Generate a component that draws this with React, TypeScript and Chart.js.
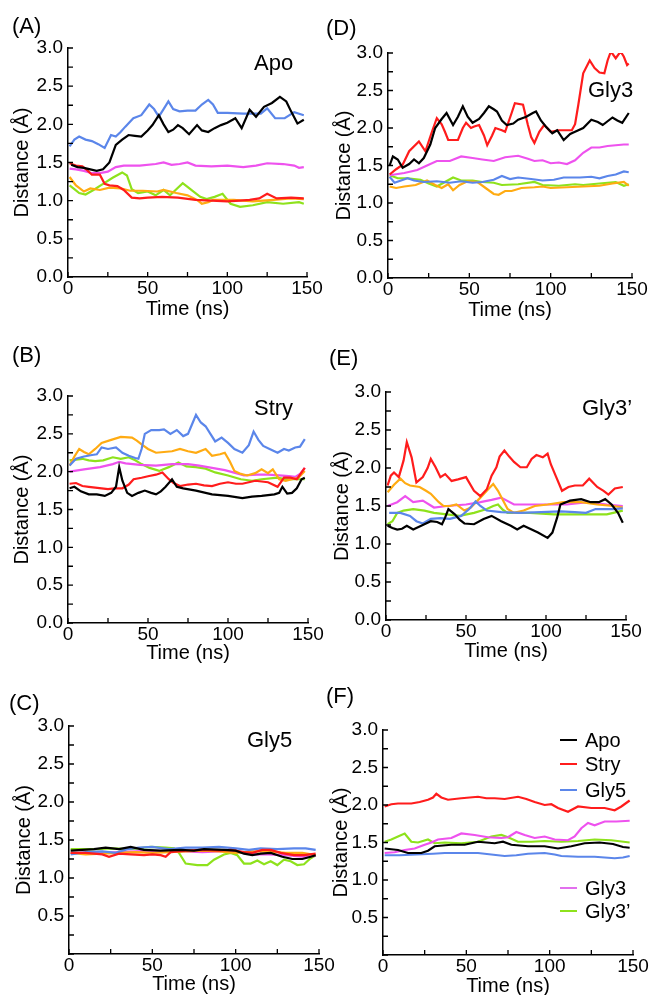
import React, { useEffect, useRef } from 'react';
import { Chart, registerables } from 'chart.js';
Chart.register(...registerables);

type P = [number, number][];

// ---------- Panel A (Apo) ----------
const A_APO: P = [[2,1.47],[6,1.44],[10,1.43],[14,1.41],[18,1.39],[22,1.41],[26,1.5],[30,1.73],[34,1.8],[38,1.86],[42,1.85],[46,1.84],[50,1.92],[53,1.99],[57,2.12],[60,2.0],[63,1.9],[66,1.93],[69,1.99],[72,1.95],[76,1.87],[81,1.99],[84,1.92],[88,1.9],[92,1.95],[96,1.99],[100,2.02],[105,2.08],[109,1.95],[114,2.19],[118,2.1],[123,2.23],[128,2.28],[133,2.36],[137,2.3],[140,2.17],[144,2.01],[148,2.06]];
const A_STRY: P = [[1,1.49],[5,1.46],[9,1.45],[12,1.4],[15,1.34],[20,1.34],[23,1.22],[26,1.2],[31,1.19],[35,1.14],[40,1.04],[45,1.03],[50,1.04],[59,1.05],[69,1.04],[80,1.01],[90,1.0],[100,0.99],[108,1.0],[114,1.01],[120,1.03],[125,1.09],[131,1.03],[140,1.04],[148,1.03]];
const A_GLY5: P = [[1,1.71],[4,1.8],[7,1.84],[11,1.8],[15,1.78],[19,1.74],[23,1.69],[27,1.86],[30,1.84],[33,1.9],[36,1.97],[41,2.08],[46,2.12],[51,2.26],[54,2.2],[57,2.1],[60,2.2],[63,2.3],[66,2.2],[70,2.17],[75,2.18],[80,2.18],[84,2.26],[88,2.32],[91,2.26],[94,2.15],[100,2.15],[110,2.14],[121,2.14],[125,2.21],[130,2.08],[136,2.08],[142,2.16],[148,2.12]];
const A_ORANGE: P = [[1,1.31],[5,1.2],[10,1.12],[14,1.16],[20,1.14],[26,1.17],[33,1.16],[39,1.13],[47,1.13],[56,1.12],[60,1.14],[68,1.1],[75,1.07],[81,1.01],[84,0.96],[88,0.98],[91,1.01],[104,1.01],[116,0.99],[129,1.01],[140,1.03],[148,1.02]];
const A_GLY3: P = [[1,1.42],[5,1.41],[10,1.39],[15,1.36],[20,1.36],[25,1.38],[30,1.44],[35,1.46],[45,1.46],[55,1.48],[60,1.5],[65,1.47],[70,1.48],[75,1.5],[80,1.46],[90,1.45],[100,1.46],[110,1.44],[118,1.46],[125,1.49],[135,1.48],[142,1.46],[145,1.43],[148,1.44]];
const A_GLY3P: P = [[1,1.2],[4,1.15],[7,1.1],[11,1.08],[16,1.14],[22,1.22],[28,1.3],[34,1.37],[37,1.33],[40,1.15],[44,1.1],[50,1.12],[55,1.07],[60,1.14],[64,1.07],[68,1.15],[72,1.23],[75,1.18],[80,1.1],[83,1.05],[87,1.02],[92,1.05],[97,1.09],[102,0.96],[108,0.92],[116,0.94],[125,0.98],[135,0.96],[145,0.98],[148,0.96]];

// ---------- Panel B (Stry) ----------
const B_APO: P = [[1,1.78],[4,1.8],[8,1.74],[13,1.7],[18,1.7],[23,1.68],[27,1.72],[30,1.8],[32,2.06],[34,1.88],[37,1.72],[40,1.68],[44,1.72],[48,1.75],[52,1.72],[55,1.7],[58,1.74],[61,1.8],[65,1.9],[68,1.8],[72,1.78],[80,1.75],[90,1.7],[100,1.68],[109,1.65],[115,1.67],[121,1.68],[129,1.7],[132,1.72],[134,1.8],[137,1.71],[140,1.72],[143,1.78],[146,1.9],[148,1.92]];
const B_STRY: P = [[1,1.84],[5,1.85],[9,1.81],[13,1.8],[17,1.79],[21,1.78],[25,1.77],[29,1.78],[34,1.78],[38,1.83],[41,1.9],[46,1.92],[50,1.94],[55,1.96],[59,1.99],[63,1.9],[66,1.85],[70,1.81],[75,1.83],[80,1.84],[85,1.82],[90,1.81],[95,1.84],[100,1.86],[105,1.84],[109,1.84],[113,1.86],[117,1.88],[121,1.87],[125,1.86],[131,1.8],[135,1.92],[139,1.92],[143,1.9],[148,2.05]];
const B_GLY5: P = [[1,2.08],[5,2.17],[10,2.2],[15,2.22],[18,2.23],[21,2.32],[25,2.3],[30,2.32],[34,2.25],[38,2.21],[42,2.18],[44,2.17],[46,2.3],[48,2.5],[52,2.55],[57,2.55],[60,2.56],[64,2.5],[68,2.55],[72,2.47],[75,2.5],[78,2.65],[80,2.75],[83,2.65],[86,2.6],[89,2.5],[92,2.4],[96,2.45],[100,2.38],[104,2.3],[109,2.25],[113,2.35],[116,2.53],[119,2.42],[122,2.34],[126,2.3],[131,2.25],[135,2.3],[138,2.28],[142,2.32],[145,2.33],[148,2.43]];
const B_ORANGE: P = [[1,2.08],[4,2.2],[7,2.3],[10,2.26],[13,2.23],[17,2.3],[21,2.38],[27,2.42],[33,2.46],[40,2.45],[43,2.41],[46,2.36],[50,2.3],[55,2.25],[60,2.26],[65,2.27],[70,2.3],[75,2.27],[80,2.25],[86,2.3],[90,2.21],[95,2.23],[98,2.25],[101,2.14],[104,2.01],[108,1.97],[112,1.95],[117,1.98],[121,2.03],[125,1.98],[128,2.03],[132,1.9],[136,1.88],[140,1.9],[144,1.92],[148,2.01]];
const B_GLY3: P = [[1,2.0],[10,2.03],[20,2.06],[28,2.1],[32,2.13],[36,2.11],[45,2.09],[55,2.08],[65,2.1],[75,2.1],[82,2.08],[90,2.05],[98,2.02],[105,1.98],[110,1.95],[118,1.96],[125,1.96],[132,1.95],[138,1.94],[142,1.93],[145,1.97],[148,2.05]];
const B_GLY3P: P = [[1,2.15],[5,2.16],[9,2.17],[13,2.15],[17,2.14],[22,2.15],[28,2.19],[33,2.17],[38,2.19],[42,2.15],[46,2.1],[51,2.05],[57,2.01],[63,2.06],[69,2.12],[74,2.07],[80,2.06],[86,2.04],[92,1.99],[100,1.95],[108,1.9],[115,1.88],[121,1.9],[131,1.92],[136,1.9],[142,1.9],[148,1.9]];

// ---------- Panel C (Gly5) ----------
const C_APO: P = [[1,1.36],[8,1.37],[15,1.38],[22,1.4],[30,1.38],[37,1.41],[45,1.37],[55,1.36],[67,1.37],[75,1.36],[81,1.38],[93,1.37],[100,1.36],[105,1.32],[110,1.3],[115,1.32],[121,1.33],[128,1.28],[134,1.25],[140,1.25],[145,1.28],[148,1.3]];
const C_STRY: P = [[1,1.33],[10,1.33],[20,1.31],[24,1.28],[30,1.32],[37,1.31],[45,1.3],[50,1.31],[55,1.3],[58,1.28],[61,1.34],[70,1.36],[80,1.37],[90,1.36],[97,1.37],[105,1.34],[110,1.33],[116,1.37],[121,1.37],[127,1.33],[135,1.3],[141,1.3],[148,1.32]];
const C_GLY5: P = [[1,1.31],[10,1.34],[20,1.35],[28,1.33],[35,1.38],[42,1.4],[50,1.41],[60,1.38],[70,1.4],[80,1.4],[90,1.41],[100,1.39],[108,1.37],[115,1.39],[125,1.38],[135,1.39],[142,1.39],[148,1.37]];
const C_ORANGE: P = [[1,1.33],[10,1.31],[20,1.32],[30,1.33],[40,1.34],[50,1.33],[60,1.34],[70,1.35],[80,1.36],[90,1.35],[100,1.33],[110,1.35],[120,1.35],[130,1.33],[140,1.33],[148,1.3]];
const C_GLY3: P = [[1,1.33],[10,1.33],[20,1.33],[30,1.34],[40,1.35],[50,1.36],[60,1.35],[70,1.35],[80,1.34],[90,1.35],[100,1.36],[105,1.33],[110,1.31],[120,1.31],[130,1.3],[140,1.28],[148,1.29]];
const C_GLY3P: P = [[1,1.38],[8,1.38],[17,1.38],[25,1.39],[37,1.38],[49,1.41],[58,1.4],[63,1.39],[66,1.33],[70,1.19],[77,1.17],[83,1.17],[87,1.24],[93,1.31],[97,1.33],[101,1.3],[105,1.19],[109,1.19],[113,1.23],[117,1.18],[121,1.22],[125,1.17],[129,1.24],[133,1.22],[137,1.17],[141,1.18],[145,1.26],[148,1.3]];

// ---------- Panel D (Gly3) ----------
const D_APO: P = [[1,1.5],[3,1.62],[6,1.58],[9,1.47],[13,1.52],[16,1.58],[19,1.53],[22,1.6],[26,1.78],[29,2.0],[33,2.12],[36,2.2],[40,2.04],[43,2.15],[46,2.29],[49,2.15],[52,2.07],[56,2.12],[59,2.2],[62,2.29],[65,2.25],[67,2.22],[70,2.1],[73,2.04],[77,2.06],[80,2.11],[85,2.15],[89,2.2],[91,2.22],[94,2.1],[97,2.02],[101,1.93],[104,1.97],[108,1.84],[112,1.92],[115,1.95],[120,2.0],[125,2.11],[129,2.08],[132,2.04],[138,2.14],[141,2.1],[144,2.07],[148,2.2]];
const D_STRY: P = [[1,1.38],[5,1.45],[9,1.51],[13,1.69],[19,1.82],[23,1.69],[27,1.95],[30,2.13],[33,2.05],[35,1.95],[37,1.84],[43,1.84],[46,2.0],[48,2.07],[51,2.0],[53,2.02],[56,2.04],[59,1.9],[61,1.77],[64,1.9],[66,2.0],[70,1.97],[72,1.95],[76,2.2],[78,2.33],[83,2.31],[86,2.04],[88,1.88],[90,1.8],[93,1.95],[96,2.04],[100,1.95],[105,1.97],[109,1.97],[113,1.97],[115,2.05],[117,2.31],[120,2.73],[124,2.9],[127,2.8],[130,2.74],[133,2.73],[135,2.9],[137,3.02],[140,2.93],[143,3.02],[145,2.95],[147,2.84],[148,2.86]];
const D_GLY5: P = [[1,1.35],[4,1.27],[8,1.3],[12,1.33],[16,1.3],[22,1.28],[30,1.29],[38,1.27],[45,1.29],[52,1.27],[58,1.28],[65,1.31],[70,1.36],[75,1.32],[80,1.34],[88,1.32],[95,1.3],[102,1.31],[108,1.34],[118,1.34],[125,1.35],[130,1.33],[135,1.36],[140,1.38],[145,1.42],[148,1.41]];
const D_ORANGE: P = [[1,1.22],[5,1.2],[10,1.22],[17,1.24],[24,1.3],[29,1.24],[33,1.2],[37,1.25],[40,1.17],[44,1.24],[49,1.29],[55,1.28],[60,1.2],[65,1.12],[68,1.11],[72,1.16],[76,1.16],[82,1.2],[90,1.21],[95,1.22],[100,1.2],[110,1.21],[120,1.22],[130,1.23],[138,1.26],[145,1.28],[148,1.23]];
const D_GLY3: P = [[1,1.37],[10,1.4],[18,1.44],[24,1.5],[30,1.56],[38,1.56],[45,1.62],[52,1.6],[58,1.58],[65,1.56],[72,1.61],[80,1.63],[86,1.59],[90,1.56],[95,1.57],[100,1.53],[105,1.54],[110,1.52],[115,1.57],[120,1.67],[125,1.74],[130,1.74],[135,1.76],[140,1.77],[145,1.78],[148,1.78]];
const D_GLY3P: P = [[1,1.37],[6,1.33],[12,1.33],[20,1.31],[25,1.26],[30,1.22],[35,1.28],[40,1.34],[45,1.3],[52,1.3],[58,1.28],[65,1.27],[70,1.24],[80,1.25],[90,1.28],[95,1.24],[105,1.23],[115,1.25],[120,1.24],[130,1.26],[140,1.28],[145,1.23],[148,1.25]];

// ---------- Panel E (Gly3') ----------
const E_APO: P = [[1,1.24],[4,1.21],[7,1.19],[10,1.2],[13,1.24],[17,1.19],[20,1.22],[24,1.26],[28,1.3],[32,1.29],[35,1.26],[37,1.35],[39,1.46],[43,1.39],[46,1.32],[49,1.27],[55,1.26],[61,1.33],[66,1.37],[72,1.3],[78,1.24],[82,1.19],[86,1.24],[90,1.2],[95,1.15],[101,1.08],[104,1.15],[107,1.35],[109,1.52],[115,1.57],[122,1.59],[128,1.55],[133,1.55],[137,1.59],[141,1.52],[145,1.41],[148,1.28]];
const E_STRY: P = [[1,1.77],[3,1.9],[5,1.94],[8,1.88],[11,2.1],[13,2.34],[16,2.14],[19,1.81],[23,1.88],[26,2.0],[28,2.12],[31,2.01],[34,1.88],[37,1.92],[41,1.83],[45,1.85],[50,1.88],[55,1.7],[59,1.63],[63,1.72],[66,1.9],[69,2.01],[71,2.15],[74,2.23],[77,2.15],[80,2.08],[84,2.01],[88,2.01],[91,2.12],[94,2.17],[98,2.14],[101,2.19],[103,2.05],[106,1.9],[110,1.7],[114,1.75],[118,1.77],[123,1.77],[127,1.86],[132,1.75],[136,1.7],[139,1.65],[143,1.73],[148,1.75]];
const E_GLY5: P = [[2,1.41],[9,1.41],[15,1.37],[19,1.3],[23,1.27],[28,1.33],[34,1.34],[40,1.33],[47,1.37],[52,1.46],[56,1.56],[59,1.5],[63,1.44],[72,1.42],[84,1.41],[97,1.42],[109,1.43],[118,1.42],[125,1.41],[131,1.46],[142,1.46],[148,1.47]];
const E_ORANGE: P = [[1,1.68],[5,1.78],[9,1.86],[12,1.8],[15,1.77],[21,1.75],[25,1.7],[28,1.66],[33,1.55],[36,1.5],[40,1.5],[44,1.52],[49,1.44],[53,1.48],[59,1.61],[63,1.7],[67,1.79],[70,1.7],[73,1.58],[76,1.46],[80,1.41],[86,1.44],[93,1.5],[101,1.52],[111,1.55],[122,1.55],[132,1.52],[142,1.5],[148,1.48]];
const E_GLY3: P = [[1,1.5],[7,1.55],[12,1.63],[17,1.55],[23,1.57],[30,1.48],[38,1.5],[50,1.52],[59,1.55],[66,1.58],[72,1.61],[80,1.52],[90,1.52],[100,1.52],[113,1.52],[126,1.55],[138,1.52],[148,1.5]];
const E_GLY3P: P = [[1,1.26],[4,1.3],[7,1.41],[11,1.44],[17,1.46],[24,1.44],[30,1.41],[38,1.39],[46,1.37],[55,1.41],[63,1.46],[67,1.5],[70,1.52],[73,1.45],[76,1.41],[90,1.41],[105,1.39],[122,1.39],[138,1.39],[144,1.42],[148,1.44]];

// ---------- Panel F (averages) ----------
const F_APO: P = [[1,1.42],[5,1.41],[9,1.4],[15,1.36],[23,1.36],[27,1.39],[31,1.45],[41,1.47],[49,1.47],[57,1.51],[62,1.5],[67,1.49],[72,1.51],[77,1.47],[87,1.45],[97,1.45],[105,1.42],[113,1.45],[121,1.49],[130,1.5],[138,1.48],[144,1.44],[148,1.43]];
const F_STRY: P = [[1,1.98],[5,2.01],[9,2.02],[17,2.02],[22,2.04],[27,2.07],[30,2.1],[32,2.15],[35,2.1],[39,2.07],[47,2.09],[57,2.11],[62,2.09],[67,2.09],[73,2.08],[81,2.11],[86,2.08],[91,2.04],[97,2.0],[101,2.01],[105,1.96],[111,1.91],[117,1.98],[125,1.96],[133,1.96],[139,1.93],[143,1.98],[148,2.06]];
const F_GLY5: P = [[1,1.33],[10,1.33],[20,1.34],[30,1.35],[37,1.36],[50,1.36],[57,1.36],[65,1.34],[73,1.32],[80,1.33],[87,1.35],[97,1.36],[103,1.34],[107,1.32],[117,1.31],[127,1.31],[133,1.3],[139,1.29],[144,1.3],[148,1.32]];
const F_GLY3: P = [[1,1.36],[7,1.37],[13,1.4],[19,1.42],[25,1.47],[29,1.5],[33,1.54],[41,1.56],[47,1.62],[55,1.6],[63,1.57],[71,1.56],[75,1.57],[80,1.64],[85,1.6],[91,1.56],[97,1.58],[103,1.54],[111,1.53],[115,1.58],[119,1.69],[123,1.76],[127,1.73],[133,1.78],[140,1.78],[148,1.79]];
const F_GLY3P: P = [[1,1.51],[5,1.54],[9,1.58],[13,1.62],[17,1.51],[21,1.5],[27,1.54],[31,1.49],[37,1.5],[47,1.49],[57,1.51],[65,1.58],[71,1.6],[75,1.57],[81,1.51],[89,1.51],[97,1.52],[107,1.51],[117,1.52],[127,1.54],[137,1.53],[148,1.5]];

// ---------- labels & ticks ----------
const SERIES_NAMES = ['Apo', 'Stry', 'Gly5', 'Gly5′', 'Gly3', "Gly3’"];
const SERIES_COLORS = ['#000000', '#ff1c1c', '#5b86ea', '#ffab12', '#ee52ee', '#8ee21c'];
const X_TICKS = [0, 50, 100, 150];
const Y_TICKS = [0, 0.5, 1.0, 1.5, 2.0, 2.5, 3.0];
const LEGEND_NAMES = ['Apo', 'Stry', 'Gly5', 'Gly3', "Gly3’"];
const LEGEND_COLORS = ['#000000', '#ff1c1c', '#5b86ea', '#e270ee', '#8ee21c'];

const FONT = "'Liberation Sans', Arial, Helvetica, sans-serif";

interface PanelCfg {
  tag: string; name: string;
  series: (P | null)[];
  box: { L: number; R: number; T: number; B: number };
  yTitleX: number; xTitleY: number; showZero: boolean;
  tagPos: [number, number]; namePos: [number, number];
}

const PANELS: PanelCfg[] = [
  { tag: '(A)', name: 'Apo', series: [A_APO, A_STRY, A_GLY5, A_ORANGE, A_GLY3, A_GLY3P],
    box: { L: 68, R: 307, T: 48, B: 277 }, yTitleX: 22, xTitleY: 309, showZero: true, tagPos: [12, 15], namePos: [254, 52] },
  { tag: '(D)', name: 'Gly3', series: [D_APO, D_STRY, D_GLY5, D_ORANGE, D_GLY3, D_GLY3P],
    box: { L: 388, R: 632, T: 53, B: 278 }, yTitleX: 344, xTitleY: 310, showZero: true, tagPos: [326, 17], namePos: [588, 79] },
  { tag: '(B)', name: 'Stry', series: [B_APO, B_STRY, B_GLY5, B_ORANGE, B_GLY3, B_GLY3P],
    box: { L: 68, R: 308, T: 396, B: 623 }, yTitleX: 22, xTitleY: 653, showZero: true, tagPos: [12, 344], namePos: [254, 397] },
  { tag: '(E)', name: "Gly3’", series: [E_APO, E_STRY, E_GLY5, E_ORANGE, E_GLY3, E_GLY3P],
    box: { L: 386, R: 626, T: 392, B: 620 }, yTitleX: 342, xTitleY: 651, showZero: true, tagPos: [329, 347], namePos: [582, 397] },
  { tag: '(C)', name: 'Gly5', series: [C_APO, C_STRY, C_GLY5, C_ORANGE, C_GLY3, C_GLY3P],
    box: { L: 69, R: 319, T: 726, B: 954 }, yTitleX: 24, xTitleY: 984, showZero: false, tagPos: [9, 692], namePos: [247, 729] },
  { tag: '(F)', name: '', series: [F_APO, F_STRY, F_GLY5, null, F_GLY3, F_GLY3P],
    box: { L: 383, R: 633, T: 730, B: 955 }, yTitleX: 341, xTitleY: 986, showZero: false, tagPos: [326, 685], namePos: [0, 0] },
];

const LEGEND_ROWS = [740, 764, 790, 888, 911];

const inwardTicks = {
  id: 'inwardTicks',
  afterDraw(chart: any) {
    const { ctx, chartArea, scales } = chart;
    const xs = scales.x, ys = scales.y;
    ctx.save();
    ctx.strokeStyle = '#000';
    ctx.lineWidth = 1.3;
    ctx.beginPath();
    for (let v = 0; v <= 150; v += 25) {
      const x = xs.getPixelForValue(v);
      ctx.moveTo(x, chartArea.bottom);
      ctx.lineTo(x, chartArea.bottom - 5);
    }
    for (let v = 0; v <= 3.0001; v += 0.25) {
      const y = ys.getPixelForValue(v);
      ctx.moveTo(chartArea.left, y);
      ctx.lineTo(chartArea.left + 5, y);
    }
    ctx.stroke();
    ctx.restore();
  },
};

function Panel({ cfg }: { cfg: PanelCfg }) {
  const ref = useRef<HTMLCanvasElement>(null);
  const { L, R, T, B } = cfg.box;
  const left = Math.round(cfg.yTitleX - 12);
  const top = T - 14;
  const right = R + 20;
  const bottom = cfg.xTitleY + 12;
  const width = right - left;
  const height = bottom - top;
  const yW = L - left - 2;
  const xH = bottom - 2 - B;

  useEffect(() => {
    if (!ref.current) return;
    const datasets: any[] = [];
    cfg.series.forEach((s, i) => {
      if (!s) return;
      datasets.push({
        label: SERIES_NAMES[i],
        data: s.map(([x, y]) => ({ x, y })),
        borderColor: SERIES_COLORS[i],
        backgroundColor: SERIES_COLORS[i],
        borderWidth: 2.2,
        pointRadius: 0,
        fill: false,
        tension: 0,
      });
    });
    const chart = new Chart(ref.current, {
      type: 'line',
      data: { datasets },
      plugins: [inwardTicks],
      options: {
        animation: false,
        responsive: false,
        maintainAspectRatio: false,
        layout: { padding: { left: 2, top: T - top, right: right - R, bottom: 2 } },
        plugins: { legend: { display: false }, tooltip: { enabled: false } },
        scales: {
          x: {
            type: 'linear', min: 0, max: 150, position: 'bottom',
            afterBuildTicks: (s: any) => { s.ticks = X_TICKS.map((v) => ({ value: v })); },
            ticks: { padding: 0, color: '#000', font: { family: FONT, size: 19 }, maxRotation: 0, autoSkip: false, callback: (v: any) => String(v) },
            grid: { display: false, drawTicks: false },
            border: { display: true, color: '#000', width: 1.5 },
            title: { display: true, text: 'Time (ns)', color: '#000', font: { family: FONT, size: 20, lineHeight: 1 }, padding: 0 },
            afterFit: (s: any) => { s.height = xH; s.paddingLeft = 0; s.paddingRight = 0; },
          },
          y: {
            type: 'linear', min: 0, max: 3,
            afterBuildTicks: (s: any) => { s.ticks = Y_TICKS.map((v) => ({ value: v })); },
            ticks: { padding: 5, color: '#000', font: { family: FONT, size: 19 }, autoSkip: false,
              callback: (v: any) => (Number(v) === 0 && !cfg.showZero ? '' : Number(v).toFixed(1)) },
            grid: { display: false, drawTicks: false },
            border: { display: true, color: '#000', width: 1.5 },
            title: { display: true, text: 'Distance (Å)', color: '#000', font: { family: FONT, size: 20, lineHeight: 1 }, padding: 0 },
            afterFit: (s: any) => { s.width = yW; s.paddingTop = 0; s.paddingBottom = 0; },
          },
        },
      } as any,
    });
    return () => chart.destroy();
  }, []);

  return (
    <>
      <canvas ref={ref} width={width} height={height}
        style={{ position: 'absolute', left, top, width, height }} />
      <div style={{ position: 'absolute', left: cfg.tagPos[0], top: cfg.tagPos[1], font: `22px ${FONT}`, lineHeight: 1, whiteSpace: 'nowrap' }}>{cfg.tag}</div>
      {cfg.name && (
        <div style={{ position: 'absolute', left: cfg.namePos[0], top: cfg.namePos[1], font: `22px ${FONT}`, lineHeight: 1, whiteSpace: 'nowrap' }}>{cfg.name}</div>
      )}
    </>
  );
}

function Legend() {
  return (
    <>
      {LEGEND_NAMES.map((n, i) => (
        <React.Fragment key={n}>
          <div style={{ position: 'absolute', left: 560, top: LEGEND_ROWS[i] - 1, width: 17, height: 2, background: LEGEND_COLORS[i] }} />
          <div style={{ position: 'absolute', left: 585, top: LEGEND_ROWS[i] - 10, font: `20px ${FONT}`, lineHeight: 1, whiteSpace: 'nowrap' }}>{n}</div>
        </React.Fragment>
      ))}
    </>
  );
}

export default function App() {
  return (
    <div style={{ position: 'fixed', left: 0, top: 0, width: 651, height: 995, overflow: 'hidden', background: '#fff', color: '#000' }}>
      {PANELS.map((p) => <Panel key={p.tag} cfg={p} />)}
      <Legend />
    </div>
  );
}
